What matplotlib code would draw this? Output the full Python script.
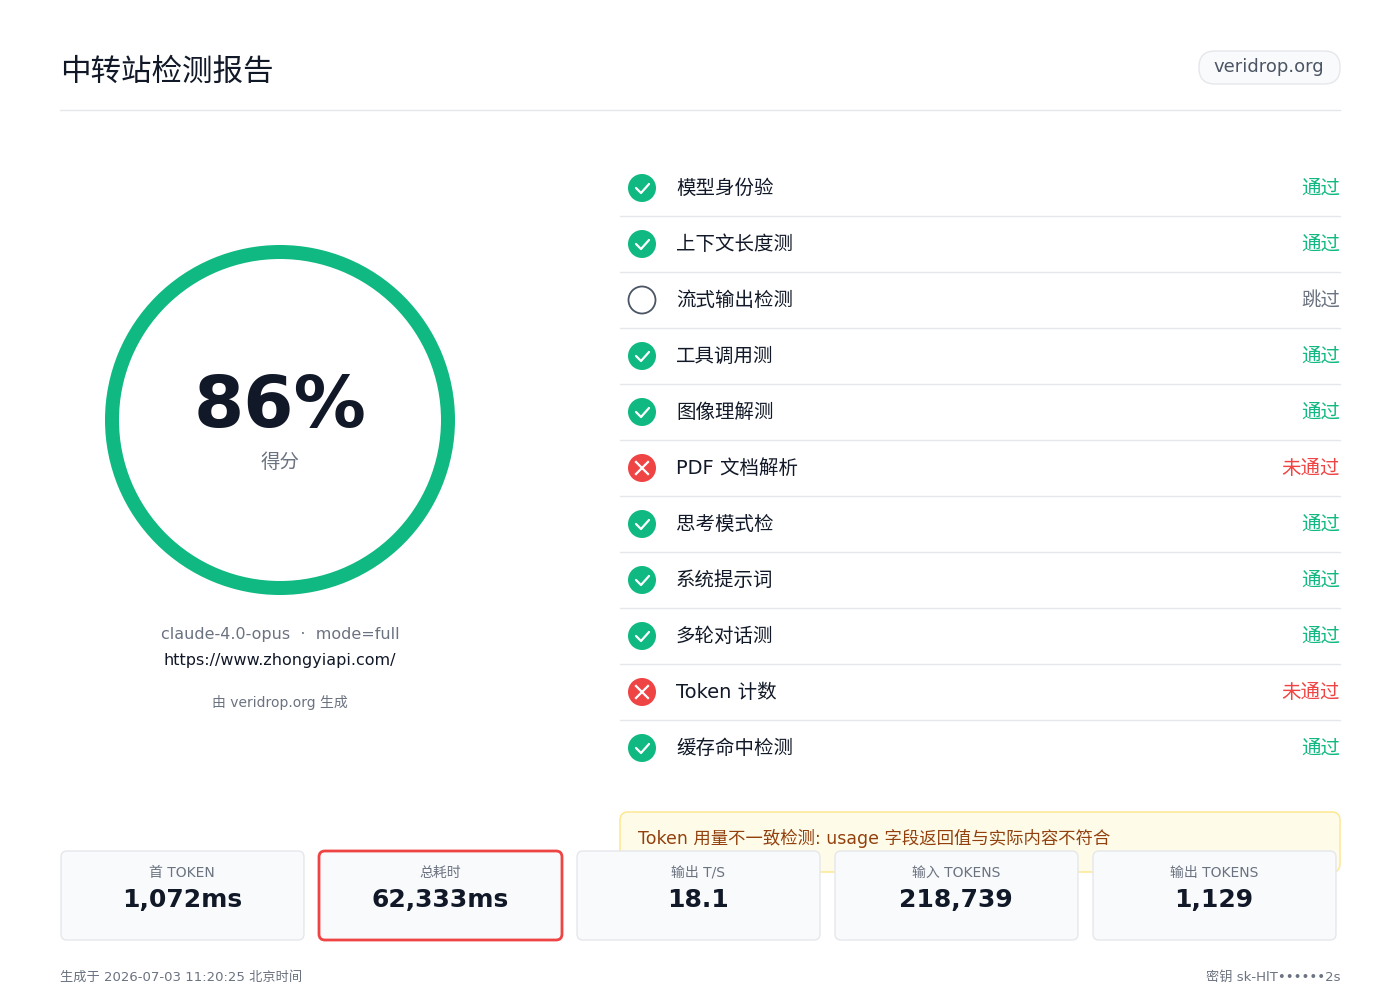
import matplotlib
matplotlib.use("Agg")
import matplotlib.pyplot as plt
from matplotlib.patches import FancyBboxPatch, Circle, Wedge

plt.rcParams['font.family'] = ['DejaVu Sans', 'Noto Sans CJK SC']

title = "中转站检测报告"
site = "veridrop.org"
score = 86
score_label = "得分"
model_line = "claude-4.0-opus  ·  mode=full"
url = "https://www.zhongyiapi.com/"
credit = "由 veridrop.org 生成"
checks = ["模型身份验", "上下文长度测", "流式输出检测", "工具调用测", "图像理解测",
          "PDF 文档解析", "思考模式检", "系统提示词", "多轮对话测", "Token 计数", "缓存命中检测"]
status = ["pass", "pass", "skip", "pass", "pass", "fail", "pass", "pass", "pass", "fail", "pass"]
status_text = {"pass": "通过", "skip": "跳过", "fail": "未通过"}
warning = "Token 用量不一致检测: usage 字段返回值与实际内容不符合"
stat_labels = ["首 TOKEN", "总耗时", "输出 T/S", "输入 TOKENS", "输出 TOKENS"]
stat_values = ["1,072ms", "62,333ms", "18.1", "218,739", "1,129"]
stat_alert = [False, True, False, False, False]
footer_left = "生成于 2026-07-03 11:20:25 北京时间"
footer_right = "密钥 sk-HlT••••••2s"

GREEN = "#10b981"; RED = "#ef4444"; DARK = "#111827"; GRAY = "#6b7280"
fig = plt.figure(figsize=(14, 10), dpi=100)
ax = fig.add_axes([0, 0, 1, 1])
ax.set_xlim(0, 1400); ax.set_ylim(1000, 0); ax.axis('off')

ax.text(60, 72, title, fontsize=22, color=DARK, va='center', ha='left')
ax.add_patch(FancyBboxPatch((1199, 51), 141, 33, boxstyle="round,pad=0,rounding_size=16",
                            fc="#f9fafb", ec="#e5e7eb", lw=1))
ax.text(1269, 67, site, fontsize=13, color="#4b5563", ha='center', va='center')
ax.plot([60, 1340], [110, 110], color="#e5e7eb", lw=1)

cx, cy, r = 280, 420, 168
ax.add_patch(Wedge((cx, cy), r + 7, 0, 360, width=14, fc=GREEN, ec='none'))
ax.text(cx, 408, f"{score}%", fontsize=52, fontweight='bold', color=DARK, ha='center', va='center')
ax.text(cx, 463, score_label, fontsize=14, color=GRAY, ha='center', va='center')
ax.text(cx, 634, model_line, fontsize=11.5, color=GRAY, ha='center', va='center')
ax.text(cx, 660, url, fontsize=11.5, color=DARK, ha='center', va='center')
ax.text(cx, 703, credit, fontsize=10, color=GRAY, ha='center', va='center')

for i, (name, st) in enumerate(zip(checks, status)):
    y = 188 + 56 * i
    if st == "pass":
        ax.add_patch(Circle((642, y), 14, fc=GREEN, ec='none'))
        ax.plot([636, 641, 649], [y, y + 5, y - 4], color='white', lw=1.6, solid_capstyle='round')
        col = GREEN
    elif st == "fail":
        ax.add_patch(Circle((642, y), 14, fc=RED, ec='none'))
        ax.plot([636, 648], [y - 6, y + 6], color='white', lw=1.6)
        ax.plot([636, 648], [y + 6, y - 6], color='white', lw=1.6)
        col = RED
    else:
        ax.add_patch(Circle((642, y), 13.5, fc='white', ec="#4b5563", lw=1.3))
        col = GRAY
    ax.text(676, y, name, fontsize=14, color=DARK, va='center', ha='left')
    ax.text(1340, y, status_text[st], fontsize=14, color=col, va='center', ha='right')
    if i < len(checks) - 1:
        ax.plot([620, 1340], [y + 28, y + 28], color="#e5e7eb", lw=1)

ax.add_patch(FancyBboxPatch((620, 812), 720, 60, boxstyle="round,pad=0,rounding_size=8",
                            fc="#fefce8", ec="#fde68a", lw=1))
ax.text(638, 838, warning, fontsize=12.5, color="#92400e", va='center', ha='left')

for i, (lab, val, al) in enumerate(zip(stat_labels, stat_values, stat_alert)):
    x0 = 61 + 258 * i
    ax.add_patch(FancyBboxPatch((x0, 851), 243, 89, boxstyle="round,pad=0,rounding_size=6",
                                fc="#f8fafc", ec=RED if al else "#e5e7eb", lw=2 if al else 1))
    ax.text(x0 + 121, 873, lab, fontsize=10, color=GRAY, ha='center', va='center')
    ax.text(x0 + 121, 900, val, fontsize=18, fontweight='bold', color=DARK, ha='center', va='center')

ax.text(60, 977, footer_left, fontsize=9.5, color=GRAY, ha='left', va='center')
ax.text(1340, 977, footer_right, fontsize=9.5, color=GRAY, ha='right', va='center')

fig.savefig("out.png", dpi=100, facecolor='white')
